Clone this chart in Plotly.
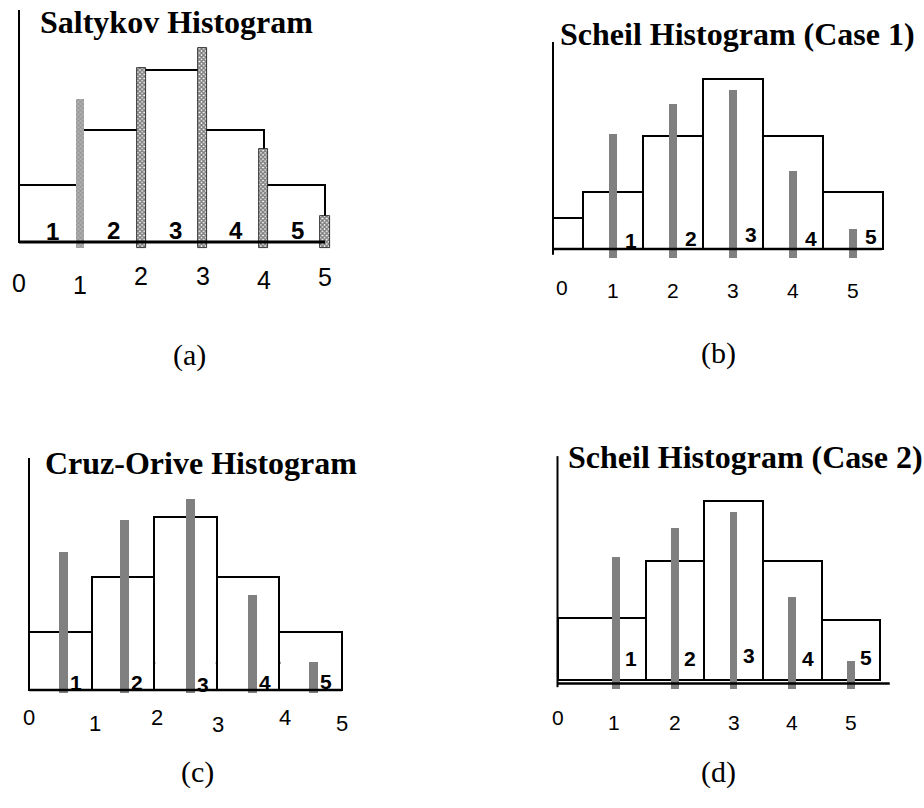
import plotly.graph_objects as go

# ---------------- data ----------------
tick_labels = ["0", "1", "2", "3", "4", "5"]
class_labels = ["1", "2", "3", "4", "5"]

# (a) Saltykov
saltykov_edges = [0, 1, 2, 3, 4, 5]
saltykov_heights = [1.0, 1.95, 3.0, 1.95, 1.0]
saltykov_spike_x = [1, 2, 3, 4, 5]
saltykov_spikes = [2.5, 3.04, 3.39, 1.62, 0.45]

# (b) Scheil, case 1
scheil1_edges = [0, 0.5, 1.5, 2.5, 3.5, 4.5, 5.5]
scheil1_heights = [0.55, 1.0, 2.0, 3.0, 2.0, 1.0]
scheil1_spike_x = [1, 2, 3, 4, 5]
scheil1_spikes = [2.03, 2.56, 2.8, 1.38, 0.35]

# (c) Cruz-Orive
cruz_edges = [0, 1, 2, 3, 4, 5]
cruz_heights = [1.0, 1.96, 3.0, 1.96, 1.0]
cruz_spike_x = [0.55, 1.52, 2.58, 3.57, 4.55]
cruz_spikes = [2.39, 2.95, 3.31, 1.65, 0.49]
cruz_marks_x = [2, 3, 4, 5]
cruz_marks_y = [0.47, 0.47, 0.47, 0.47]

# (d) Scheil, case 2
scheil2_edges = [0, 1.5, 2.5, 3.5, 4.5, 5.5]
scheil2_heights = [1.04, 2.0, 3.0, 2.0, 1.0]
scheil2_spike_x = [1, 2, 3, 4, 5]
scheil2_spikes = [2.06, 2.55, 2.81, 1.39, 0.32]

W, H = 924, 808
GRAY = "#808080"
SERIF = "Liberation Serif"
SANS = "Liberation Sans"

fig = go.Figure()
annotations = []
shapes = []


def setup_axes(n, ox, oy, sx, sy, box):
    """Place subplot n so that data (0,0) lands at pixel (ox, oy)."""
    L, T, R, B = box
    xr = [(L - ox) / sx, (R - ox) / sx]
    yr = [(oy - B) / sy, (oy - T) / sy]
    sfx = "" if n == 1 else str(n)
    fig.update_layout(**{
        f"xaxis{sfx}": dict(domain=[L / W, R / W], range=xr, visible=False,
                            anchor=f"y{sfx}", fixedrange=True),
        f"yaxis{sfx}": dict(domain=[1 - B / H, 1 - T / H], range=yr, visible=False,
                            anchor=f"x{sfx}", fixedrange=True),
    })
    return f"x{sfx}", f"y{sfx}"


def centers_of(edges):
    return [(edges[i] + edges[i + 1]) / 2 for i in range(len(edges) - 1)]


def bins(xa, ya, edges, heights):
    widths = [edges[i + 1] - edges[i] for i in range(len(heights))]
    fig.add_trace(go.Bar(x=centers_of(edges), y=heights, width=widths, base=0,
                         marker=dict(color="white", line=dict(color="black", width=2)),
                         xaxis=xa, yaxis=ya, showlegend=False, hoverinfo="skip"))


def spikes(xa, ya, xs, vals, width, base, marker):
    fig.add_trace(go.Bar(x=xs, y=[v - base for v in vals], base=base, width=width,
                         marker=marker, xaxis=xa, yaxis=ya,
                         showlegend=False, hoverinfo="skip"))


def axis_lines(xa, ya, vtop, vbot, hx1, hy=0, hw=2.5):
    shapes.append(dict(type="line", xref=xa, yref=ya, x0=0, x1=0, y0=vbot, y1=vtop,
                       line=dict(color="black", width=2)))
    shapes.append(dict(type="line", xref=xa, yref=ya, x0=0, x1=hx1, y0=hy, y1=hy,
                       line=dict(color="black", width=hw)))


def ticks(xa, ya, drops, xshifts, size):
    for i, t in enumerate(tick_labels):
        annotations.append(dict(x=i, y=0, xref=xa, yref=ya, text=t, showarrow=False,
                                xanchor="center", yanchor="middle",
                                yshift=-drops[i], xshift=xshifts[i],
                                font=dict(family=SANS, size=size, color="black")))


def class_text(xa, ya, xs, dx, lift, size):
    for x, t, l in zip(xs, class_labels, lift):
        annotations.append(dict(x=x + dx, y=0, xref=xa, yref=ya, text=f"<b>{t}</b>",
                                showarrow=False, xanchor="center", yanchor="middle",
                                yshift=l, font=dict(family=SANS, size=size, color="black")))


def paper_text(px, py, text, size, anchor="center"):
    annotations.append(dict(x=px / W, y=1 - py / H, xref="paper", yref="paper",
                            text=text, showarrow=False, xanchor=anchor, yanchor="middle",
                            font=dict(family=SERIF, size=size, color="black")))


# ---------- (a) Saltykov ----------
xa, ya = setup_axes(1, 19, 242, 61.2, 57.3, (0, 0, 462, 404))
bins(xa, ya, saltykov_edges, saltykov_heights)
checker = dict(color="white", line=dict(width=0.8, color="#111"),
               pattern=dict(shape="x", fgcolor="black", bgcolor="white", size=3, solidity=0.75))
gray_checker = dict(color="white", line=dict(width=0),
                    pattern=dict(shape="x", fgcolor="#707070", bgcolor="#b5b5b5", size=3, solidity=0.5))
spikes(xa, ya, saltykov_spike_x[:1], saltykov_spikes[:1], 0.14, -0.1, gray_checker)
spikes(xa, ya, saltykov_spike_x[1:], saltykov_spikes[1:], 0.15, -0.1, checker)
axis_lines(xa, ya, 4.05, 0, 5.0, 0, 3)
ticks(xa, ya, [41, 43, 34, 34, 38, 35], [0, 0, 0, 0, 0, 0], 25)
class_text(xa, ya, centers_of(saltykov_edges), 0.05, [11, 12, 12, 12, 12], 24)
paper_text(176, 22, "<b>Saltykov Histogram</b>", 32)
paper_text(189, 355, "(a)", 30)

# ---------- (b) Scheil case 1 ----------
xa, ya = setup_axes(2, 553, 249, 60.0, 56.7, (462, 0, 924, 404))
bins(xa, ya, scheil1_edges, scheil1_heights)
spikes(xa, ya, scheil1_spike_x, scheil1_spikes, 0.12, -0.15, dict(color=GRAY, line=dict(width=0)))
axis_lines(xa, ya, 3.65, -0.1, 5.48)
ticks(xa, ya, [38, 41, 41, 41, 41, 41], [9, 0, 0, 0, 0, 0], 21)
class_text(xa, ya, scheil1_spike_x, 0.3, [9, 11, 15, 11, 13], 21)
paper_text(558, 34, "<b>Scheil Histogram (Case 1)</b>", 32, "left")
paper_text(718, 353, "(b)", 30)

# ---------- (c) Cruz-Orive ----------
xa, ya = setup_axes(3, 29, 690, 62.6, 57.7, (0, 404, 462, 808))
bins(xa, ya, cruz_edges, cruz_heights)
spikes(xa, ya, cruz_spike_x, cruz_spikes, 0.145, -0.05, dict(color=GRAY, line=dict(width=0)))
fig.add_trace(go.Scatter(x=cruz_marks_x, y=cruz_marks_y, mode="markers",
                         marker=dict(symbol="square", size=2, color="black"),
                         xaxis=xa, yaxis=ya, showlegend=False, hoverinfo="skip"))
axis_lines(xa, ya, 4.02, 0, 5.0)
ticks(xa, ya, [27, 33, 27, 34, 27, 33], [0, 3, 3, 1, 6, 0], 22)
class_text(xa, ya, cruz_spike_x, 0.2, [8, 8, 6, 8, 9], 21)
paper_text(43, 463, "<b>Cruz-Orive Histogram</b>", 32, "left")
paper_text(197, 772, "(c)", 30)

# ---------- (d) Scheil case 2 ----------
xa, ya = setup_axes(4, 557.5, 680, 58.7, 59.7, (462, 404, 924, 808))
bins(xa, ya, scheil2_edges, scheil2_heights)
spikes(xa, ya, scheil2_spike_x, scheil2_spikes, 0.13, -0.15, dict(color=GRAY, line=dict(width=0)))
axis_lines(xa, ya, 3.75, -0.12, 5.66, -0.06)
ticks(xa, ya, [37, 42, 42, 42, 42, 42], [0, -2, 0, 0, 0, 0], 21)
class_text(xa, ya, scheil2_spike_x, 0.26, [22, 22, 25, 22, 23], 21)
paper_text(566, 457, "<b>Scheil Histogram (Case 2)</b>", 32, "left")
paper_text(718, 772, "(d)", 30)

fig.update_layout(width=W, height=H, margin=dict(l=0, r=0, t=0, b=0),
                  paper_bgcolor="white", plot_bgcolor="rgba(0,0,0,0)",
                  barmode="overlay", bargap=0,
                  annotations=annotations, shapes=shapes)

fig.write_html("out.html")
